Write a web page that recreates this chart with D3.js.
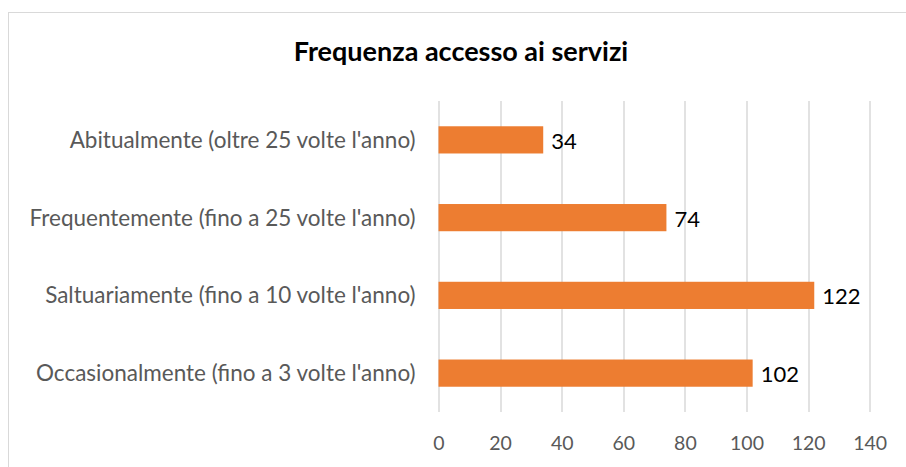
<!DOCTYPE html>
<html>
<head>
<meta charset="utf-8">
<script src="https://cdn.jsdelivr.net/npm/d3@7"></script>
<style>
  body { margin: 0; background: #fff; }
  svg { display: block; }
</style>
</head>
<body>
<svg id="chart"></svg>
<script>
var screen = {width: 906, height: 467};
var margins = {top: 101, right: 36, bottom: 55, left: 438.5};

var categories = [
    "Abitualmente (oltre 25 volte l'anno)",
    "Frequentemente (fino a 25 volte l'anno)",
    "Saltuariamente (fino a 10 volte l'anno)",
    "Occasionalmente (fino a 3 volte l'anno)"
];
var values = [34, 74, 122, 102];
var xTicks = [0, 20, 40, 60, 80, 100, 120, 140];
var title = "Frequenza accesso ai servizi";

var font = "Lato, 'Open Sans', sans-serif";

var svg = d3.select("#chart")
    .attr("width", screen.width)
    .attr("height", screen.height)
    .style("font-family", font);

// chart outer border (runs off the right and bottom edge)
svg.append("rect")
    .attr("x", 8.5).attr("y", 12.5)
    .attr("width", 1000).attr("height", 1000)
    .attr("fill", "none")
    .attr("stroke", "#d9d9d9")
    .attr("stroke-width", 1);

var width = 869.7 - margins.left;
var height = 412 - margins.top;

var xscale = d3.scaleLinear()
    .domain([0, 140])
    .range([0, width]);

var yscale = d3.scaleBand()
    .domain(categories)
    .range([0, height])
    .paddingInner(0.65)
    .paddingOuter(0.325);

var g = svg.append("g")
    .attr("transform", "translate(" + margins.left + "," + margins.top + ")");

// gridlines
g.append("g")
    .attr("class", "grid")
    .selectAll("line")
    .data(xTicks)
    .enter()
    .append("line")
    .attr("x1", function(d) { return Math.round(xscale(d)) + 0.5; })
    .attr("x2", function(d) { return Math.round(xscale(d)) + 0.5; })
    .attr("y1", 0)
    .attr("y2", height)
    .attr("stroke", "#d9d9d9")
    .attr("stroke-width", 1.5);

// x axis labels
var xAxis = d3.axisBottom(xscale)
    .tickValues(xTicks)
    .tickSize(0)
    .tickPadding(31);
g.append("g")
    .attr("id", "xAxis")
    .attr("transform", "translate(0," + height + ")")
    .call(xAxis)
    .call(function(a) { a.select(".domain").remove(); })
    .selectAll("text")
    .attr("fill", "#595959")
    .attr("dy", "0.35em")
    .style("font-family", font)
    .style("font-size", "19.5px");

// y axis labels
var yAxis = d3.axisLeft(yscale)
    .tickSize(0)
    .tickPadding(23);
g.append("g")
    .attr("id", "yAxis")
    .call(yAxis)
    .call(function(a) { a.select(".domain").remove(); })
    .selectAll("text")
    .attr("fill", "#595959")
    .attr("dy", "0.35em")
    .style("font-family", font)
    .style("font-size", "22.5px");

// bars
g.selectAll(".bar")
    .data(values)
    .enter()
    .append("rect")
    .attr("class", "bar")
    .attr("x", xscale(0))
    .attr("y", function(d, i) { return yscale(categories[i]); })
    .attr("width", function(d) { return xscale(d) - xscale(0); })
    .attr("height", yscale.bandwidth())
    .attr("fill", "#ed7d31");

// data labels
g.selectAll(".label")
    .data(values)
    .enter()
    .append("text")
    .attr("class", "label")
    .attr("x", function(d) { return xscale(d) + 8; })
    .attr("y", function(d, i) { return yscale(categories[i]) + yscale.bandwidth() / 2 + 1; })
    .attr("dy", "0.36em")
    .attr("fill", "#000")
    .style("font-size", "22px")
    .text(function(d) { return d; });

// title
svg.append("text")
    .attr("x", 461)
    .attr("y", 61)
    .attr("text-anchor", "middle")
    .attr("fill", "#000")
    .style("font-weight", "bold")
    .style("font-size", "27px")
    .text(title);
</script>
</body>
</html>
